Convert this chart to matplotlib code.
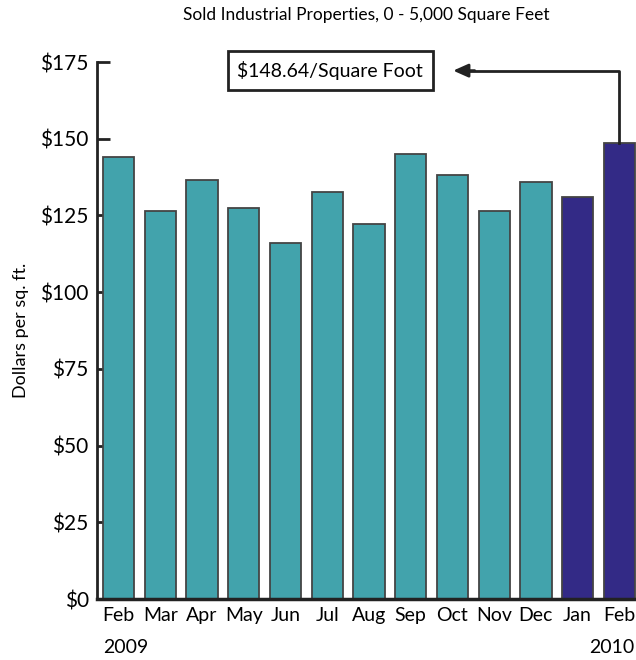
import matplotlib
matplotlib.use("Agg")
import matplotlib.pyplot as plt
import numpy as np

plt.rcParams["font.family"] = ["Lato", "DejaVu Sans"]

months = ["Feb", "Mar", "Apr", "May", "Jun", "Jul", "Aug", "Sep", "Oct", "Nov", "Dec", "Jan", "Feb"]
values = [144.1, 126.4, 136.4, 127.5, 115.9, 132.7, 122.2, 145.1, 138.1, 126.4, 136.0, 131.0, 148.64]
colors = ["#42A3AC"] * 11 + ["#332A86"] * 2
y_ticks = [0, 25, 50, 75, 100, 125, 150, 175]
y_ticklabels = ["$0", "$25", "$50", "$75", "$100", "$125", "$150", "$175"]

fig = plt.figure(figsize=(6.36, 6.6), dpi=100)
ax = fig.add_axes([0.1525, 0.0924, 0.8475, 0.8136])
ax.set_axisbelow(True)

x = np.arange(len(months))
ax.bar(x, values, 0.75, color=colors, edgecolor="#444444", linewidth=1.3, zorder=2)

ax.set_xlim(-0.52, 12.4)
ax.set_ylim(0, 175)
ax.set_yticks(y_ticks)
ax.set_yticklabels(y_ticklabels, fontsize=15)
ax.tick_params(axis="y", direction="in", length=9, width=2, pad=6, color="#222222")
ax.set_xticks(x)
ax.set_xticklabels(months, fontsize=14)
ax.tick_params(axis="x", length=0, pad=6)

for s in ["top", "right"]:
    ax.spines[s].set_visible(False)
ax.spines["left"].set_linewidth(2)
ax.spines["bottom"].set_linewidth(2.5)
ax.spines["left"].set_color("#222222")
ax.spines["bottom"].set_color("#222222")

ax.set_ylabel("Dollars per sq. ft.", fontsize=13, labelpad=8)
ax.set_title("Sold Industrial Properties, 0 - 5,000 Square Feet", fontsize=12.5, pad=30)

# year labels under first and last month
ax.text(-0.37, -0.075, "2009", transform=ax.get_xaxis_transform(), fontsize=14, ha="left", va="top")
ax.text(12.36, -0.075, "2010", transform=ax.get_xaxis_transform(), fontsize=14, ha="right", va="top")

# annotation box with elbow arrow from last bar
ax.annotate("$148.64/Square Foot", xy=(7.95, 172.2), xytext=(5.07, 172.2),
            fontsize=14, ha="center", va="center", annotation_clip=False,
            bbox=dict(boxstyle="square,pad=0.5", fc="white", ec="#222222", lw=2))
ax.plot([12, 12, 8.3], [values[-1], 172.2, 172.2], color="#222222", lw=2, clip_on=False, zorder=3)
ax.annotate("", xy=(7.95, 172.2), xytext=(8.6, 172.2), annotation_clip=False,
            arrowprops=dict(arrowstyle="-|>,head_length=0.9,head_width=0.4", color="#222222", lw=2))

fig.savefig("out.png", dpi=100)
